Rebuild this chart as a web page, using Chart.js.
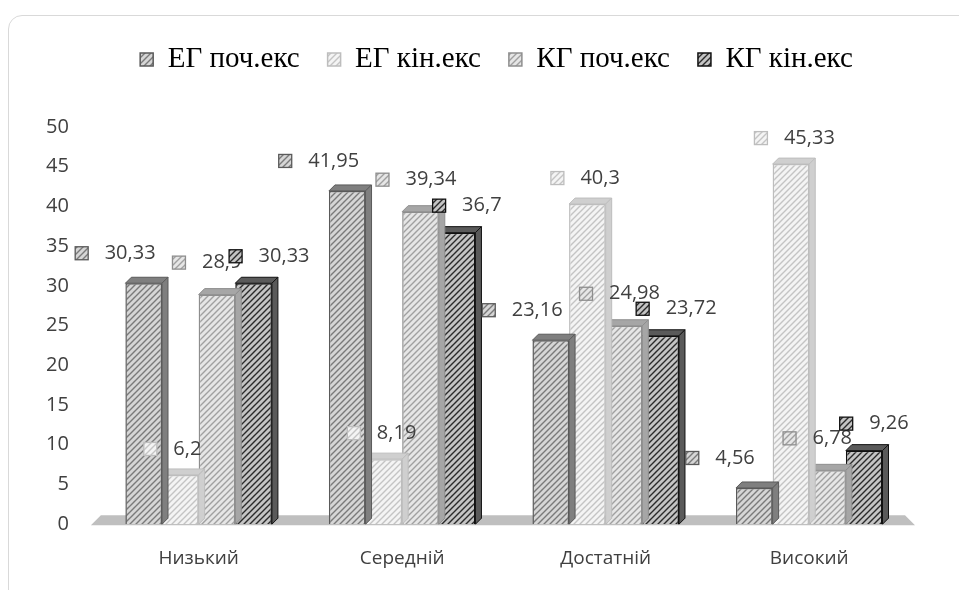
<!DOCTYPE html>
<html>
<head>
<meta charset="utf-8">
<script src="https://cdn.jsdelivr.net/npm/chart.js@4"></script>
<style>
  body { margin: 0; background: #fff; overflow: hidden; }
  #frame {
    position: absolute; left: 8px; top: 15px; width: 1000px; height: 640px;
    border: 1px solid #d9d9d9; border-radius: 14px; box-sizing: border-box;
  }
  #chart_one { position: absolute; left: 0; top: 0; }
</style>
</head>
<body>
<div id="frame"></div>
<canvas id="chart_one" width="959" height="590"></canvas>
<script>
// chart values
const categories = ["Низький", "Середній", "Достатній", "Високий"];
const seriesNames = ["ЕГ поч.екс", "ЕГ кін.екс", "КГ поч.екс", "КГ кін.екс"];
const egStart = [30.33, 41.95, 23.16, 4.56];
const egEnd = [6.2, 8.19, 40.3, 45.33];
const kgStart = [28.9, 39.34, 24.98, 6.78];
const kgEnd = [30.33, 36.7, 23.72, 9.26];
const yTicks = [0, 5, 10, 15, 20, 25, 30, 35, 40, 45, 50];

// look of each series: background, hatch line, border, 3d face, label offset
const seriesStyles = [
  { bg: "#d6d6d6", line: "#7a7a7a", border: "#5a5a5a", face: "#7f7f7f", labelDx: -62, labelDy: -30 },
  { bg: "#f4f4f4", line: "#c4c4c4", border: "#bdbdbd", face: "#cfcfcf", labelDx: -30, labelDy: -26 },
  { bg: "#e6e6e6", line: "#a0a0a0", border: "#8e8e8e", face: "#a6a6a6", labelDx: -38, labelDy: -32 },
  { bg: "#c4c4c4", line: "#2a2a2a", border: "#111111", face: "#5a5a5a", labelDx: -18, labelDy: -27 },
];

class ChartPage {
  constructor() {
    this.depth = 6;
    this.makeHatch = this.makeHatch.bind(this);
    this.buildDatasets = this.buildDatasets.bind(this);
  }

  init() {
    const self = this;
    self.patterns = seriesStyles.map(s => self.makeHatch(s.bg, s.line));
    self.drawChart();
  }

  // diagonal hatch tile used as bar fill
  makeHatch(bg, line) {
    const tile = document.createElement("canvas");
    tile.width = 6;
    tile.height = 6;
    const c = tile.getContext("2d");
    c.fillStyle = bg;
    c.fillRect(0, 0, 6, 6);
    c.strokeStyle = line;
    c.lineWidth = 1.4;
    c.beginPath();
    c.moveTo(0, 6); c.lineTo(6, 0);
    c.moveTo(-1, 1); c.lineTo(1, -1);
    c.moveTo(5, 7); c.lineTo(7, 5);
    c.stroke();
    return c.createPattern(tile, "repeat");
  }

  buildDatasets() {
    const values = [egStart, egEnd, kgStart, kgEnd];
    return values.map((data, i) => ({
      label: seriesNames[i],
      data: data,
      backgroundColor: this.patterns[i],
      borderColor: seriesStyles[i].border,
      borderWidth: 1.5,
      barPercentage: 1.0,
      categoryPercentage: 0.72,
    }));
  }

  drawChart() {
    const self = this;
    const d = self.depth;

    // extra space under the legend, and legend sits a bit right of centre
    const legendMargin = {
      id: "legendMargin",
      beforeInit(chart) {
        const fit = chart.legend.fit;
        chart.legend.fit = function () {
          fit.bind(chart.legend)();
          this.height += 43;
        };
      },
      afterLayout(chart) {
        chart.legend.left += 28;
        chart.legend.right += 28;
      }
    };

    // gray floor under the bars
    const floor = {
      id: "floor",
      beforeDatasetsDraw(chart) {
        const a = chart.chartArea;
        const ctx = chart.ctx;
        ctx.save();
        ctx.fillStyle = "#bfbfbf";
        ctx.beginPath();
        ctx.moveTo(a.left - 6, a.bottom + 1);
        ctx.lineTo(a.left + 4, a.bottom - 9);
        ctx.lineTo(a.right - 6, a.bottom - 9);
        ctx.lineTo(a.right + 4, a.bottom + 1);
        ctx.closePath();
        ctx.fill();
        ctx.restore();
      }
    };

    // top and side faces so the bars look like the 3d columns
    const faces = {
      id: "faces",
      afterDatasetDraw(chart, args) {
        const ctx = chart.ctx;
        const style = seriesStyles[args.index];
        ctx.save();
        args.meta.data.forEach(el => {
          const half = el.width / 2;
          const l = el.x - half, r = el.x + half;
          ctx.fillStyle = style.face;
          ctx.strokeStyle = style.border;
          ctx.lineWidth = 1;
          ctx.beginPath();
          ctx.moveTo(l, el.y);
          ctx.lineTo(l + d, el.y - d);
          ctx.lineTo(r + d, el.y - d);
          ctx.lineTo(r, el.y);
          ctx.closePath();
          ctx.fill();
          ctx.stroke();
          ctx.beginPath();
          ctx.moveTo(r, el.y);
          ctx.lineTo(r + d, el.y - d);
          ctx.lineTo(r + d, el.base - d);
          ctx.lineTo(r, el.base);
          ctx.closePath();
          ctx.fill();
          ctx.stroke();
        });
        ctx.restore();
      }
    };

    // value labels with the small legend key in front
    const valueLabels = {
      id: "valueLabels",
      afterDatasetsDraw(chart) {
        const ctx = chart.ctx;
        ctx.save();
        ctx.font = "20px 'Open Sans'";
        ctx.textBaseline = "middle";
        chart.data.datasets.forEach((ds, i) => {
          const style = seriesStyles[i];
          chart.getDatasetMeta(i).data.forEach((el, j) => {
            const x = el.x + style.labelDx;
            const y = el.y + style.labelDy;
            ctx.fillStyle = self.patterns[i];
            ctx.fillRect(x - 6.5, y - 6.5, 13, 13);
            ctx.strokeStyle = style.border;
            ctx.lineWidth = 1.3;
            ctx.strokeRect(x - 6.5, y - 6.5, 13, 13);
            ctx.fillStyle = "#404040";
            ctx.fillText(String(ds.data[j]).replace(".", ","), x + 23, y);
          });
        });
        ctx.restore();
      }
    };

    new Chart(document.getElementById("chart_one"), {
      type: "bar",
      data: {
        labels: categories,
        datasets: self.buildDatasets(),
      },
      options: {
        responsive: false,
        animation: false,
        layout: { padding: { top: 17, left: 26, right: 48, bottom: 5 } },
        plugins: {
          legend: {
            position: "top",
            labels: {
              font: { family: "'Liberation Serif'", size: 29 },
              color: "#000",
              boxWidth: 13,
              boxHeight: 13,
              padding: 28,
            },
          },
          tooltip: { enabled: false },
        },
        scales: {
          x: {
            grid: { display: false },
            border: { display: false },
            ticks: { font: { family: "'Open Sans'", size: 19 }, color: "#404040", padding: 15 },
          },
          y: {
            min: 0,
            max: 50,
            afterBuildTicks(scale) {
              scale.ticks = yTicks.map(v => ({ value: v }));
            },
            grid: { display: false },
            border: { display: false },
            ticks: { font: { family: "'Open Sans'", size: 20 }, color: "#404040", padding: 20 },
          },
        },
      },
      plugins: [legendMargin, floor, faces, valueLabels],
    });
  }
}

const PAGE = new ChartPage();
PAGE.init();
</script>
</body>
</html>
